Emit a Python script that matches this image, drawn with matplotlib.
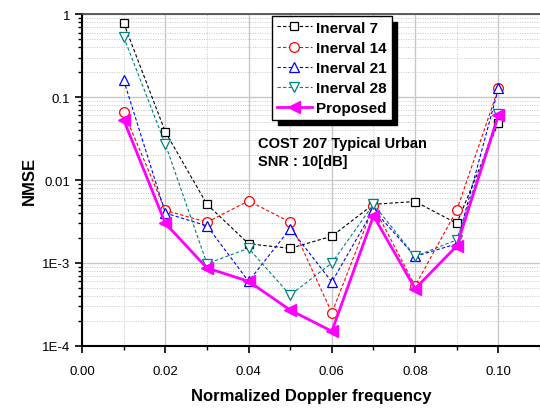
import matplotlib
matplotlib.use("Agg")
import matplotlib.pyplot as plt
from matplotlib.ticker import FixedLocator, LogLocator, NullFormatter, MultipleLocator

plt.rcParams['font.family'] = ['Liberation Sans', 'DejaVu Sans']

# normalized doppler frequency
fd = [0.01, 0.02, 0.03, 0.04, 0.05, 0.06, 0.07, 0.08, 0.09, 0.10]

# NMSE values
int7 = [0.78, 0.038, 0.0051, 0.0017, 0.0015, 0.0021, 0.0051, 0.0055, 0.0030, 0.049]
int14 = [0.066, 0.0043, 0.0031, 0.0056, 0.0031, 2.5e-4, 0.0048, 5.3e-4, 0.0043, 0.127]
int21 = [0.16, 0.0040, 0.0028, 6.0e-4, 0.0026, 5.9e-4, 0.0044, 0.0012, 0.0017, 0.127]
int28 = [0.53, 0.027, 9.8e-4, 0.0015, 4.1e-4, 0.0010, 0.0051, 0.0012, 0.0019, 0.063]
prop = [0.053, 0.0030, 8.7e-4, 6.0e-4, 2.7e-4, 1.5e-4, 0.0037, 4.9e-4, 0.0016, 0.060]

ytick_vals = [1e-4, 1e-3, 1e-2, 1e-1, 1]
ytick_labs = ["1E-4", "1E-3", "0.01", "0.1", "1"]

fig = plt.figure(figsize=(5.4, 4.1), dpi=100)
ax = fig.add_axes([0.152, 0.154, 0.848, 0.809])

dash = (0, (3, 2))
ax.plot(fd, int7, color="black", ls=dash, lw=0.8, marker="s", ms=6,
        mfc="white", mec="black", mew=0.9, label="Inerval 7")
ax.plot(fd, int14, color="red", ls=dash, lw=0.8, marker="o", ms=7,
        mfc="white", mec="red", mew=0.9, label="Inerval 14")
ax.plot(fd, int21, color="blue", ls=dash, lw=0.8, marker="^", ms=7,
        mfc="white", mec="blue", mew=0.9, label="Inerval 21")
ax.plot(fd, int28, color="#008080", ls=dash, lw=0.8, marker="v", ms=7,
        mfc="white", mec="#008080", mew=0.9, label="Inerval 28")
ax.plot(fd, prop, color="magenta", ls="-", lw=2, marker="<", ms=8,
        mfc="magenta", mec="magenta", label="Proposed")

ax.set_yscale("log")
ax.set_ylim(1e-4, 1)
ax.set_xlim(0, 0.11)
ax.xaxis.set_major_locator(FixedLocator([0.0, 0.02, 0.04, 0.06, 0.08, 0.10]))
ax.set_xticklabels(["0.00", "0.02", "0.04", "0.06", "0.08", "0.10"])
ax.xaxis.set_minor_locator(MultipleLocator(0.01))
ax.set_yticks(ytick_vals)
ax.set_yticklabels(ytick_labs)
ax.yaxis.set_minor_locator(LogLocator(base=10, subs=range(2, 10)))
ax.yaxis.set_minor_formatter(NullFormatter())

ax.grid(which="major", color="#c8c8c8", lw=1, ls="-")
ax.grid(which="minor", color="#c8c8c8", lw=0.7, ls=(0, (1, 1.5)))
ax.set_axisbelow(True)

ax.tick_params(which="major", direction="out", length=5, width=1.2, labelsize=9.5)
ax.tick_params(which="minor", direction="out", length=3, width=1)
ax.tick_params(axis="x", which="major", pad=9)
for s in ["left", "bottom"]:
    ax.spines[s].set_linewidth(1.5)
ax.spines["top"].set_linewidth(1.2)
ax.spines["top"].set_color("#444444")
ax.spines["right"].set_visible(False)

ax.set_xlabel("Normalized Doppler frequency", fontsize=12, fontweight="bold", labelpad=8)
ax.set_ylabel("NMSE", fontsize=12, fontweight="bold", labelpad=4)

ax.text(0.384, 0.632, "COST 207 Typical Urban\nSNR : 10[dB]", transform=ax.transAxes,
        fontsize=10.5, fontweight="bold", va="top", ha="left", linespacing=1.3)

leg = ax.legend(loc="upper left", bbox_to_anchor=(0.415, 0.994), borderaxespad=0,
                prop={"weight": "bold", "size": 11}, handlelength=2.3,
                handletextpad=0.3, labelspacing=0.4, borderpad=0.3,
                fancybox=False, framealpha=1, edgecolor="black",
                shadow={"ox": 4, "oy": -4, "color": "black", "alpha": 1})
leg.get_frame().set_linewidth(1)

fig.savefig("out.png", dpi=100)
